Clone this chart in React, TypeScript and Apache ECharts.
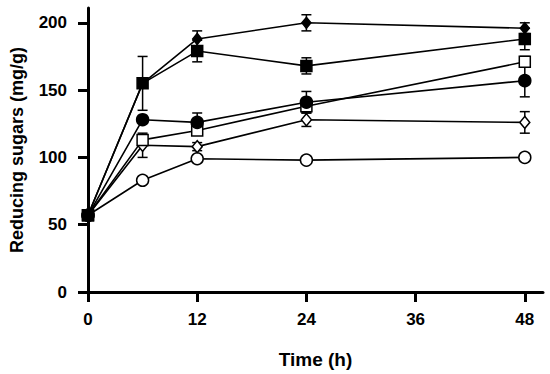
import React, { useEffect, useRef } from "react";
import * as echarts from "echarts";

const times = [0, 6, 12, 24, 48];
const xTicks = [0, 12, 24, 36, 48];
const yTicks = [0, 50, 100, 150, 200];

const filledDiamond = [57, 155, 188, 200, 196];
const filledDiamondErr = [0, 0, 6, 6, 4];
const filledSquare = [57, 155, 179, 168, 188];
const filledSquareErr = [0, 20, 8, 6, 8];
const openSquare = [57, 113, 120, 138, 171];
const openSquareErr = [0, 3, 3, 4, 4];
const filledCircle = [57, 128, 126, 141, 157];
const filledCircleErr = [0, 2, 7, 8, 12];
const openDiamond = [57, 109, 108, 128, 126];
const openDiamondErr = [0, 9, 3, 5, 8];
const openCircle = [57, 83, 99, 98, 100];
const openCircleErr = [0, 0, 0, 0, 0];

const FONT = "Liberation Sans, Arial, sans-serif";

type Spec = {
  name: string;
  values: number[];
  errs: number[];
  symbol: string;
  size: number | number[];
  filled: boolean;
  z: number;
};

const specs: Spec[] = [
  { name: "open circle", values: openCircle, errs: openCircleErr, symbol: "circle", size: 12, filled: false, z: 3 },
  { name: "open diamond", values: openDiamond, errs: openDiamondErr, symbol: "diamond", size: [10, 12], filled: false, z: 4 },
  { name: "open square", values: openSquare, errs: openSquareErr, symbol: "rect", size: 11, filled: false, z: 5 },
  { name: "filled circle", values: filledCircle, errs: filledCircleErr, symbol: "circle", size: 12, filled: true, z: 6 },
  { name: "filled diamond", values: filledDiamond, errs: filledDiamondErr, symbol: "diamond", size: [9, 11], filled: true, z: 7 },
  { name: "filled square", values: filledSquare, errs: filledSquareErr, symbol: "rect", size: 11, filled: true, z: 8 },
];

export default function App() {
  const ref = useRef<HTMLDivElement>(null);
  useEffect(() => {
    if (!ref.current) return;
    const chart = echarts.init(ref.current, null, { renderer: "svg" });

    const errData: number[][] = [];
    specs.forEach((s) => {
      s.values.forEach((v, i) => {
        if (s.errs[i] > 0) errData.push([times[i], v - s.errs[i], v + s.errs[i]]);
      });
    });

    const lineSeries = specs.map((s) => ({
      type: "line",
      name: s.name,
      data: times.map((t, i) => [t, s.values[i]]),
      symbol: s.symbol,
      symbolSize: s.size,
      showAllSymbol: true,
      z: s.z,
      lineStyle: { color: "#000", width: 1.6 },
      itemStyle: {
        color: s.filled ? "#000" : "#fff",
        borderColor: "#000",
        borderWidth: 1.5,
        opacity: 1,
      },
      emphasis: { disabled: true },
    }));

    chart.setOption({
      animation: false,
      grid: { left: 85, right: 7, top: 8, bottom: 81, containLabel: false },
      xAxis: {
        type: "value",
        min: 0,
        max: 50,
        interval: 12,
        name: "Time (h)",
        nameLocation: "middle",
        nameGap: 58,
        nameTextStyle: { fontFamily: FONT, fontWeight: "bold", fontSize: 19, color: "#000" },
        axisLine: { show: true, lineStyle: { color: "#000", width: 3 } },
        axisTick: { show: true, length: 10, lineStyle: { color: "#000", width: 3 }, customValues: xTicks },
        axisLabel: { fontFamily: FONT, fontWeight: "bold", fontSize: 17, color: "#000", margin: 19, customValues: xTicks },
        splitLine: { show: false },
      },
      yAxis: {
        type: "value",
        min: 0,
        max: 211,
        interval: 50,
        name: "Reducing sugars (mg/g)",
        nameLocation: "middle",
        nameGap: 62,
        nameTextStyle: { fontFamily: FONT, fontWeight: "bold", fontSize: 18, color: "#000" },
        axisLine: { show: true, lineStyle: { color: "#000", width: 3 } },
        axisTick: { show: true, length: 10, lineStyle: { color: "#000", width: 3 }, customValues: yTicks },
        axisLabel: { fontFamily: FONT, fontWeight: "bold", fontSize: 17, color: "#000", margin: 21, customValues: yTicks },
        splitLine: { show: false },
      },
      series: [
        {
          type: "custom",
          name: "errors",
          data: errData,
          z: 2,
          encode: { x: 0, y: [1, 2] },
          renderItem: (params: any, api: any) => {
            const x = api.value(0);
            const lo = api.coord([x, api.value(1)]);
            const hi = api.coord([x, api.value(2)]);
            const w = 5;
            const style = { stroke: "#000", lineWidth: 1.5 };
            return {
              type: "group",
              children: [
                { type: "line", shape: { x1: lo[0], y1: lo[1], x2: hi[0], y2: hi[1] }, style },
                { type: "line", shape: { x1: lo[0] - w, y1: lo[1], x2: lo[0] + w, y2: lo[1] }, style },
                { type: "line", shape: { x1: hi[0] - w, y1: hi[1], x2: hi[0] + w, y2: hi[1] }, style },
              ],
            };
          },
        },
        ...lineSeries,
      ],
    });
    return () => chart.dispose();
  }, []);
  return (
    <div
      ref={ref}
      style={{ position: "fixed", left: 0, top: 0, width: 550, height: 374, background: "#fff" }}
    />
  );
}
